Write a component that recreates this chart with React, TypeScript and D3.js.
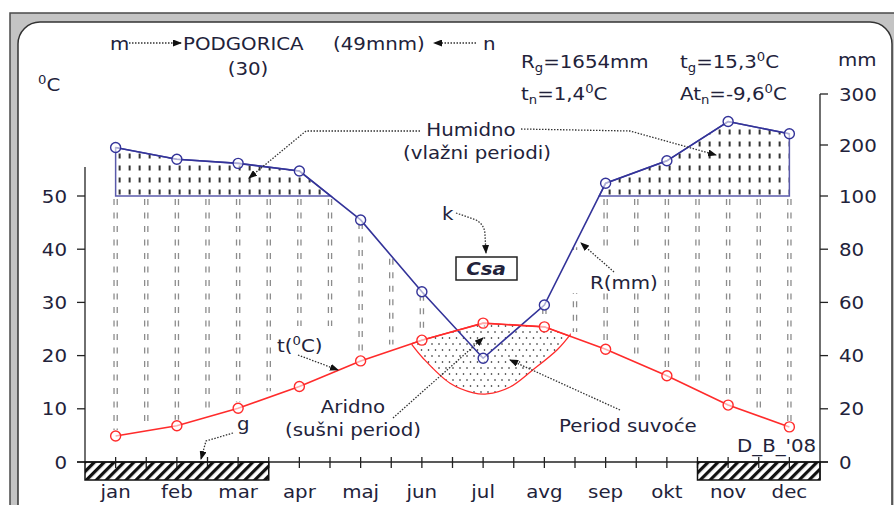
import * as d3 from 'd3';

const months = ['jan', 'feb', 'mar', 'apr', 'maj', 'jun', 'jul', 'avg', 'sep', 'okt', 'nov', 'dec'];
const temperature = [4.9, 6.8, 10.1, 14.2, 19.0, 22.9, 26.1, 25.4, 21.2, 16.2, 10.7, 6.6];
const precipitation = [195, 172, 164, 149, 91, 64, 39, 59, 125, 169, 246, 222];
const tempTicks = [0, 10, 20, 30, 40, 50];
const precipTicks = [0, 20, 40, 60, 80, 100, 200, 300];
// absolute frost months, as month boundaries (0 = start of jan)
const frostStart = [0, 10];
const frostEnd = [3, 12];
// lower edge of the drawn dry-period lens (month position, °C)
const dryMonth = [4.84, 5.02, 5.46, 5.84, 6.06, 6.44, 6.81, 7.21, 7.42];
const dryLow = [22.0, 19.5, 14.8, 13.0, 12.8, 14.1, 17.3, 21.1, 23.9];

const W = 894;
const H = 505;
const FONT = '"DejaVu Sans", Verdana, sans-serif';
const INK = '#22223a';
const RED = '#ff2b2b';
const BLUE = '#333399';

const xm = d3.scaleLinear().domain([-0.5, 11.5]).range([85, 820]);
const yT = d3.scaleLinear().domain([0, 50]).range([462, 196]);
const yP = d3.scaleLinear().domain([0, 100, 300]).range([462, 196, 94]);
const y100 = yP(100);

const lerp = (arr: number[], m: number) => {
  const i = Math.max(0, Math.min(Math.floor(m), arr.length - 2));
  const t = m - i;
  return arr[i] * (1 - t) + arr[i + 1] * t;
};

function Label({ x, y, anchor = 'start', size = 18, weight, italic, children }: any) {
  return (
    <text
      transform={`translate(${x},${y}) scale(1.1,1)`}
      textAnchor={anchor}
      fontSize={size}
      fontFamily={FONT}
      fontWeight={weight}
      fontStyle={italic ? 'italic' : undefined}
      fill={INK}
    >
      {children}
    </text>
  );
}

// small raised / lowered text followed by normal text
const Sup = ({ s, after }: any) => (
  <>
    <tspan fontSize={12} dy={-7}>{s}</tspan>
    <tspan dy={7}>{after}</tspan>
  </>
);
const Sub = ({ s, after }: any) => (
  <>
    <tspan fontSize={12} dy={4}>{s}</tspan>
    <tspan dy={-4}>{after}</tspan>
  </>
);

export default function App() {
  const tPx = temperature.map((t, i) => [xm(i), yT(t)] as [number, number]);
  const pPx = precipitation.map((p, i) => [xm(i), yP(p)] as [number, number]);
  const pPxY = pPx.map((p) => p[1]);

  // humid polygons: parts of the rain line above 100 mm
  const humid: [number, number][][] = [];
  let cur: [number, number][] | null = null;
  pPx.forEach((p, i) => {
    const above = p[1] < y100;
    const cross = (q: [number, number]) => {
      const t = (y100 - q[1]) / (p[1] - q[1]);
      return [q[0] + t * (p[0] - q[0]), y100] as [number, number];
    };
    if (above && !cur) {
      cur = i === 0 ? [[p[0], y100]] : [cross(pPx[i - 1])];
    }
    if (above && cur) cur.push(p);
    if (cur && !above) {
      cur.push(cross(pPx[i - 1]));
      humid.push(cur);
      cur = null;
    } else if (cur && i === pPx.length - 1) {
      cur.push([p[0], y100]);
      humid.push(cur);
      cur = null;
    }
  });

  // dry lens
  const m0 = dryMonth[0];
  const m1 = dryMonth[dryMonth.length - 1];
  const top: [number, number][] = [[xm(m0), yT(lerp(temperature, m0))]];
  temperature.forEach((t, i) => {
    if (i > m0 && i < m1) top.push([xm(i), yT(t)]);
  });
  top.push([xm(m1), yT(lerp(temperature, m1))]);
  const low = dryMonth.map((m, i) => [xm(m), yT(dryLow[i])] as [number, number]).reverse();
  const dryPath =
    (d3.line()(top) as string) +
    (d3.line().curve(d3.curveCatmullRom)(low) as string).replace(/^M/, 'L') +
    'Z';

  // gray humid columns every half month
  const cols = d3.range(0, 23).map((k) => {
    const m = k / 2;
    const yTop = Math.max(lerp(pPxY, m), y100) + 3;
    const yBot = yT(lerp(temperature, m)) - 6;
    return { x: xm(m), yTop, yBot };
  }).filter((c) => c.yBot - c.yTop > 4);

  const line = d3.line();
  const leader = { fill: 'none', stroke: '#333', strokeWidth: 1.3, strokeDasharray: '1.5,1.5', markerEnd: 'url(#arr)' };

  return (
    <svg width={W} height={H} style={{ position: 'absolute', left: 0, top: 0, background: '#fff' }}>
      <defs>
        <pattern id="humid" patternUnits="userSpaceOnUse" width={10} height={12} y={y100} x={xm(0)}>
          <line x1={4} x2={4} y1={5.5} y2={10.5} stroke="#111" strokeWidth={1.7} />
        </pattern>
        <pattern id="dots" patternUnits="userSpaceOnUse" width={7} height={12}>
          <circle cx={1.5} cy={2} r={0.8} fill="#111" />
          <circle cx={5} cy={8} r={0.8} fill="#111" />
        </pattern>
        <pattern id="frost" patternUnits="userSpaceOnUse" width={7} height={7} patternTransform="rotate(45)">
          <rect x={0} y={0} width={3.2} height={7} fill="#111" />
        </pattern>
        <marker id="arr" markerUnits="userSpaceOnUse" markerWidth={9} markerHeight={7} refX={8} refY={3.5} orient="auto">
          <path d="M0,0L9,3.5L0,7Z" fill="#111" />
        </marker>
      </defs>

      {/* frame */}
      <rect x={10} y={13} width={900} height={520} fill="#c4c4c4" stroke="#4a4a4a" strokeWidth={1.5} />
      <rect x={18} y={22} width={874} height={520} rx={22} fill="#fff" stroke="#333" strokeWidth={1.5} />

      {/* gray columns */}
      {cols.map((c, i) => (
        <g key={i} stroke="#8c8c8c" strokeWidth={1.3} strokeDasharray="6,7.5">
          <line x1={c.x - 1.6} x2={c.x - 1.6} y1={c.yTop} y2={c.yBot} />
          <line x1={c.x + 1.6} x2={c.x + 1.6} y1={c.yTop} y2={c.yBot} />
        </g>
      ))}
      {/* label gaps */}
      <rect x={288} y={326} width={50} height={60} fill="#fff" />
      <rect x={570} y={250} width={80} height={43} fill="#fff" />

      {/* humid areas */}
      {humid.map((poly, i) => (
        <path key={i} d={line(poly) + 'Z'} fill="url(#humid)" stroke="#5a5aaa" strokeWidth={1.5} />
      ))}

      {/* dry period */}
      <path d={dryPath} fill="url(#dots)" stroke={RED} strokeWidth={1.3} />

      {/* axes */}
      <line x1={85} x2={85} y1={167} y2={462} stroke="#222" strokeWidth={1.3} />
      <line x1={820} x2={820} y1={yP(300)} y2={480} stroke="#222" strokeWidth={1.3} />
      <line x1={77} x2={828} y1={462} y2={462} stroke="#222" strokeWidth={1.3} />
      {tempTicks.map((v) => (
        <g key={v}>
          <line x1={77} x2={85} y1={yT(v)} y2={yT(v)} stroke="#222" strokeWidth={1.3} />
          <Label x={67} y={yT(v) + 6.5} anchor="end">{v}</Label>
        </g>
      ))}
      {precipTicks.map((v) => (
        <g key={v}>
          <line x1={820} x2={828} y1={yP(v)} y2={yP(v)} stroke="#222" strokeWidth={1.3} />
          <Label x={839} y={yP(v) + 6.5}>{v}</Label>
        </g>
      ))}
      {d3.range(0, 23).map((k) => (
        <line key={k} x1={xm(k / 2)} x2={xm(k / 2)} y1={457} y2={468} stroke="#222" strokeWidth={1.3} />
      ))}
      {frostStart.map((s, i) => (
        <rect key={i} x={xm(s - 0.5)} y={462} width={xm(frostEnd[i] - 0.5) - xm(s - 0.5)} height={18}
          fill="url(#frost)" stroke="#111" strokeWidth={1.5} />
      ))}
      {months.map((m, i) => (
        <Label key={m} x={xm(i)} y={498} anchor="middle">{m}</Label>
      ))}

      {/* series */}
      <path d={line(pPx) as string} fill="none" stroke={BLUE} strokeWidth={1.6} />
      <path d={line(tPx) as string} fill="none" stroke={RED} strokeWidth={1.6} />
      {pPx.map((p, i) => (
        <circle key={i} cx={p[0]} cy={p[1]} r={5} fill="#fff" fillOpacity={0.6} stroke={BLUE} strokeWidth={1.4} />
      ))}
      {tPx.map((p, i) => (
        <circle key={i} cx={p[0]} cy={p[1]} r={5} fill="#fff" fillOpacity={0.6} stroke={RED} strokeWidth={1.4} />
      ))}

      {/* header */}
      <Label x={110} y={50}>m</Label>
      <path d="M129,43L181,43" {...leader} />
      <Label x={183} y={50}>PODGORICA</Label>
      <Label x={333} y={50}>(49mnm)</Label>
      <path d="M476,43L434,43" {...leader} />
      <Label x={483} y={50}>n</Label>
      <Label x={248} y={75} anchor="middle">(30)</Label>
      <Label x={38} y={91}><Sup s="0" after="C" /></Label>
      <Label x={838} y={66}>mm</Label>
      <Label x={521} y={68}>R<Sub s="g" after="=1654mm" /></Label>
      <Label x={680} y={68}>t<Sub s="g" after="=15,3" /><Sup s="0" after="C" /></Label>
      <Label x={521} y={100}>t<Sub s="n" after="=1,4" /><Sup s="0" after="C" /></Label>
      <Label x={680} y={100}>At<Sub s="n" after="=-9,6" /><Sup s="0" after="C" /></Label>

      {/* annotations */}
      <Label x={471} y={136} anchor="middle">Humidno</Label>
      <Label x={477} y={159} anchor="middle">(vlažni periodi)</Label>
      <path d="M420,131L306,131L249,178" {...leader} />
      <path d="M521,129L630,131L716,155" {...leader} />
      <Label x={442} y={220}>k</Label>
      <path d="M456,213L476,220Q485,225 485,235L486,253" {...leader} />
      <rect x={456} y={257} width={61} height={23} fill="#fff" stroke="#222" strokeWidth={1.5} />
      <Label x={486} y={275} anchor="middle" weight="bold" italic>Csa</Label>
      <Label x={590} y={289}>R(mm)</Label>
      <path d="M614,272L581,243" {...leader} />
      <Label x={277} y={352}>t(<Sup s="0" after="C)" /></Label>
      <path d="M298,355L338,370" {...leader} />
      <Label x={353} y={413} anchor="middle">Aridno</Label>
      <Label x={353} y={436} anchor="middle">(sušni period)</Label>
      <path d="M393,418L483,338" {...leader} />
      <Label x={559} y={432}>Period suvoće</Label>
      <path d="M620,410L510,360" {...leader} />
      <Label x={237} y={430}>g</Label>
      <path d="M233,433L206,441L201,459" {...leader} />
      <Label x={737} y={452}>D_B_'08</Label>
    </svg>
  );
}
